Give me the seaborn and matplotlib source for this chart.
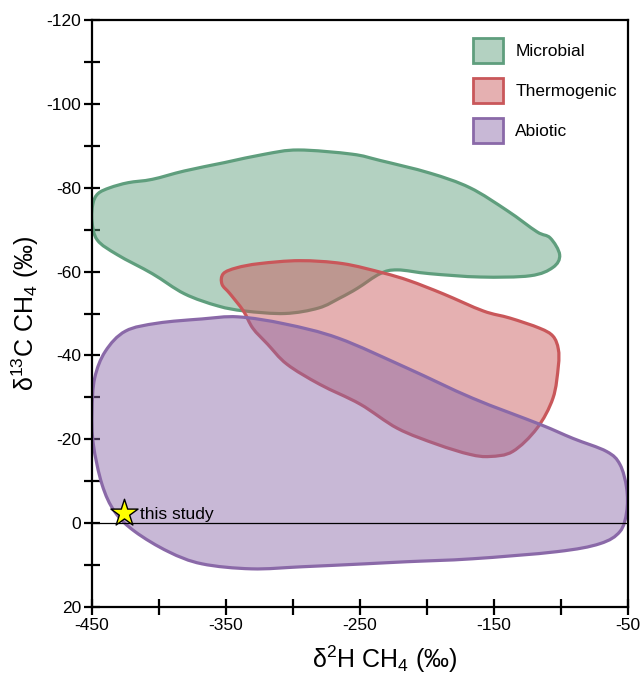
import numpy as np
import matplotlib
matplotlib.use("Agg")
import matplotlib.pyplot as plt
from matplotlib.path import Path
from matplotlib.patches import PathPatch, Patch
import seaborn as sns

# ---- data ----
microbial_x = [-450, -449.3, -445.5, -436.6, -423, -405, -381, -351, -321, -296, -256, -235, -198,
               -168, -140, -118, -108, -101, -106, -123, -160, -198, -222, -235, -252, -265, -281,
               -306, -336, -356, -381, -405, -431, -446]
microbial_y = [-72, -76.2, -78.6, -80, -81.2, -82, -84, -86, -88, -89, -88, -86.5, -83.5,
               -80, -74.5, -69.5, -68, -64, -61, -59, -58.7, -59.5, -60.4, -59.5, -56, -53.7,
               -51.3, -50, -50.6, -51.8, -54.7, -59.5, -64, -67.5]

thermo_x = [-352, -353, -347, -337, -330, -319, -304.5, -280, -250, -222, -192.5, -168, -153,
            -136, -118, -106, -102, -102, -106, -116, -138, -158, -188, -213, -233, -263, -295,
            -325, -342]
thermo_y = [-59.5, -57, -54.7, -50.6, -46.5, -42.7, -37.9, -33.1, -28.4, -22.6, -18.8, -16.4,
            -15.9, -17.1, -22.6, -29.8, -37.4, -41.5, -44.6, -46.5, -48.9, -50.6, -54.7, -57.8,
            -59.7, -61.9, -62.6, -61.9, -60.9]

abiotic_x = [-450, -448, -440, -425, -401, -368, -341, -306, -266, -215, -166, -116, -91, -66,
             -56, -51, -51, -56, -71, -103, -166, -215, -246, -293, -331, -368, -393, -418,
             -433, -442.5, -449]
abiotic_y = [-26.7, -34.6, -41, -45.8, -47.7, -48.7, -49.2, -47.5, -44.1, -37, -29.8, -23.6,
             -20.2, -17.1, -14, -8.3, -2.7, 2, 4.9, 6.8, 8.5, 9.2, 9.7, 10.4, 10.9, 9.7, 6.8,
             2, -2.7, -9.2, -18.8]

study_x = [-426]
study_y = [-2.3]
study_label = "this study"

categories = ["Microbial", "Thermogenic", "Abiotic"]
edge_colors = ["#5f9e7d", "#c9575a", "#8a69a8"]

x_ticks = [-450, -350, -250, -150, -50]
x_minor = [-400, -300, -200, -100]
y_ticks = [-120, -100, -80, -60, -40, -20, 0, 20]
y_minor = [-110, -90, -70, -50, -30, -10, 10]


def smooth_closed_path(xs, ys):
    """Closed Catmull-Rom outline rendered as cubic Bezier segments."""
    P = np.column_stack([xs, ys]).astype(float)
    n = len(P)
    verts = [P[0]]
    codes = [Path.MOVETO]
    for i in range(n):
        p0, p1, p2, p3 = P[i - 1], P[i], P[(i + 1) % n], P[(i + 2) % n]
        c1 = p1 + (p2 - p0) / 6.0
        c2 = p2 - (p3 - p1) / 6.0
        verts += [c1, c2, p2]
        codes += [Path.CURVE4] * 3
    verts.append(P[0])
    codes.append(Path.CLOSEPOLY)
    return Path(verts, codes)


sns.set_style("ticks")
plt.rcParams["font.family"] = ["Liberation Sans", "DejaVu Sans"]
plt.rcParams["mathtext.fontset"] = "custom"
plt.rcParams["mathtext.rm"] = "Liberation Sans"
plt.rcParams["mathtext.it"] = "Liberation Sans:italic"
for k in ["text.color", "axes.labelcolor", "xtick.color", "ytick.color",
          "xtick.labelcolor", "ytick.labelcolor", "axes.edgecolor"]:
    plt.rcParams[k] = "black"

fig = plt.figure(figsize=(6.42, 6.75), dpi=100)
ax = fig.add_axes([92 / 642, 1 - 607 / 675, (628 - 92) / 642, (607 - 20) / 675])

shapes = [(microbial_x, microbial_y), (thermo_x, thermo_y), (abiotic_x, abiotic_y)]
for (xs, ys), col in zip(shapes, edge_colors):
    path = smooth_closed_path(xs, ys)
    rgb = matplotlib.colors.to_rgb(col)
    ax.add_patch(PathPatch(path, facecolor=(*rgb, 0.47), edgecolor="none", zorder=2))
    ax.add_patch(PathPatch(path, facecolor="none", edgecolor=col, lw=2.3, zorder=2,
                           joinstyle="round"))

ax.axhline(0, color="black", lw=0.9, zorder=3)

sns.scatterplot(x=study_x, y=study_y, marker="*", s=420, color="#ffff00",
                edgecolor="black", linewidth=1.0, zorder=5, ax=ax, legend=False)
ax.text(study_x[0] + 12, study_y[0] + 0.2, study_label, fontsize=12.5, va="center",
        ha="left", zorder=6, color="black")

ax.set_xlim(-450, -50)
ax.set_ylim(20, -120)
ax.set_xticks(x_ticks)
ax.set_xticks(x_minor, minor=True)
ax.set_yticks(y_ticks)
ax.set_yticks(y_minor, minor=True)
ax.set_xticklabels([str(v) for v in x_ticks])
ax.set_yticklabels([str(v) for v in y_ticks])
ax.tick_params(which="both", direction="inout", length=12, width=1.6, color="black",
               labelcolor="black", labelsize=12.5, top=False, right=False)
ax.tick_params(axis="y", pad=2)
ax.tick_params(axis="x", pad=2)
for sp in ax.spines.values():
    sp.set_visible(True)
    sp.set_color("black")
    sp.set_linewidth(1.6)

ax.set_xlabel(r"δ$^{2}$H CH$_{4}$ (‰)", fontsize=18)
ax.set_ylabel(r"δ$^{13}$C CH$_{4}$ (‰)", fontsize=18, labelpad=4)
ax.xaxis.set_label_coords(0.547, -0.062)

handles = []
for name, col in zip(categories, edge_colors):
    rgb = matplotlib.colors.to_rgb(col)
    handles.append(Patch(facecolor=(*rgb, 0.47), edgecolor=col, linewidth=2.0, label=name))
fig.legend(handles=handles, loc="upper left", bbox_to_anchor=(473 / 642, 1 - 38 / 675),
           frameon=False, fontsize=12.5, handlelength=1.72, handleheight=1.85,
           labelspacing=0.85, handletextpad=0.72, borderpad=0, borderaxespad=0)

fig.savefig("out.png", dpi=100)
